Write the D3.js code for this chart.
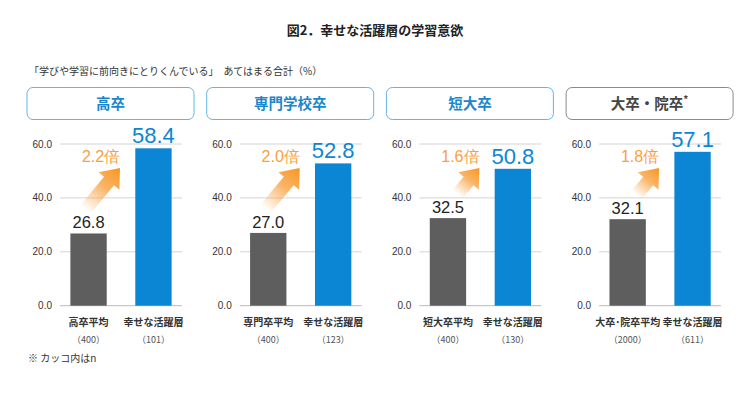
<!DOCTYPE html>
<html>
<head>
<meta charset="utf-8">
<script src="https://cdn.jsdelivr.net/npm/d3@7"></script>
<style>
  body { margin: 0; background: #fff; }
  text { font-family: "Noto Sans CJK JP", "Noto Sans", sans-serif; }
  .num { font-family: "Liberation Sans", Arial, sans-serif; }
</style>
</head>
<body>
<script>
// data
var groups = ["高卒", "専門学校卒", "短大卒", "大卒・院卒"];
var avgLabels = ["高卒平均", "専門卒平均", "短大卒平均", "大卒･院卒平均"];
var avgValues = [26.8, 27.0, 32.5, 32.1];
var happyValues = [58.4, 52.8, 50.8, 57.1];
var avgN = [400, 400, 400, 2000];
var happyN = [101, 123, 130, 611];
var ratios = ["2.2倍", "2.0倍", "1.6倍", "1.8倍"];
var yTicks = [0, 20, 40, 60];

var W = 750, H = 394;
var panelStep = 179.7, gridLeft = 60, gridWidth = 122;

var svg = d3.select("body").append("svg")
    .attr("width", W)
    .attr("height", H);

// arrow gradient
var defs = svg.append("defs");
var grad = defs.append("linearGradient")
    .attr("id", "arrowGrad")
    .attr("x1", 0).attr("y1", 0).attr("x2", 1).attr("y2", 0);
grad.append("stop").attr("offset", "0%").attr("stop-color", "#f9a03f").attr("stop-opacity", 0);
grad.append("stop").attr("offset", "55%").attr("stop-color", "#f9a03f").attr("stop-opacity", 0.8);
grad.append("stop").attr("offset", "100%").attr("stop-color", "#f7961e").attr("stop-opacity", 1);

// titles
svg.append("text")
    .attr("x", 375).attr("y", 35)
    .attr("text-anchor", "middle")
    .attr("font-size", 13).attr("font-weight", "bold")
    .attr("fill", "#222")
    .text("図2．幸せな活躍層の学習意欲");

svg.append("text")
    .attr("x", 29).attr("y", 75)
    .attr("font-size", 10).attr("fill", "#333")
    .text("「学びや学習に前向きにとりくんでいる」　あてはまる合計（%）");

svg.append("text")
    .attr("x", 28).attr("y", 362)
    .attr("font-size", 10).attr("fill", "#333")
    .text("※ カッコ内はn");

// scales
var y = d3.scaleLinear()
    .domain([0, 60])
    .range([305.7, 144]);

var x = d3.scaleBand()
    .domain(["avg", "happy"])
    .range([0, gridWidth])
    .paddingInner(0.44)
    .paddingOuter(0.16);

groups.forEach(function(name, i) {
  var g = svg.append("g")
      .attr("transform", "translate(" + (gridLeft + i * panelStep) + ",0)");
  var last = i === groups.length - 1;

  // header box
  g.append("rect")
      .attr("x", -33).attr("y", 87.5)
      .attr("width", 167).attr("height", 32)
      .attr("rx", 6)
      .attr("fill", "#fff")
      .attr("stroke", last ? "#8a8a8a" : "#62b6e6")
      .attr("stroke-width", 1);
  var ht = g.append("text")
      .attr("x", 50.5).attr("y", 109)
      .attr("text-anchor", "middle")
      .attr("font-size", 14.5).attr("font-weight", "bold")
      .attr("fill", last ? "#444" : "#1a86cc")
      .text(name);
  if (last) {
    ht.append("tspan").attr("dy", -6).attr("font-size", 10).text("*");
  }

  // grid + ticks
  g.selectAll(".grid")
      .data(yTicks)
    .enter().append("line")
      .attr("x1", 0).attr("x2", gridWidth)
      .attr("y1", function(d) { return y(d); })
      .attr("y2", function(d) { return y(d); })
      .attr("stroke", function(d) { return d === 0 ? "#bbb" : "#d4d4d4"; })
      .attr("stroke-width", 1);
  g.selectAll(".tick")
      .data(yTicks)
    .enter().append("text")
      .attr("class", "num")
      .attr("x", -8)
      .attr("y", function(d) { return y(d) + 3.5; })
      .attr("text-anchor", "end")
      .attr("font-size", 10).attr("fill", "#333")
      .text(function(d) { return d.toFixed(1); });

  var bars = [
    {key: "avg", value: avgValues[i], label: avgLabels[i], n: avgN[i]},
    {key: "happy", value: happyValues[i], label: "幸せな活躍層", n: happyN[i]}
  ];

  g.selectAll(".bar")
      .data(bars)
    .enter().append("rect")
      .attr("x", function(d) { return x(d.key); })
      .attr("width", x.bandwidth())
      .attr("y", function(d) { return y(d.value); })
      .attr("height", function(d) { return y(0) - y(d.value); })
      .attr("fill", function(d) { return d.key === "avg" ? "#5e5e5e" : "#0b86d4"; });

  // value labels
  g.selectAll(".val")
      .data(bars)
    .enter().append("text")
      .attr("class", "num")
      .attr("x", function(d) { return x(d.key) + x.bandwidth() / 2; })
      .attr("y", function(d) { return y(d.value) - 5; })
      .attr("text-anchor", "middle")
      .attr("font-size", function(d) { return d.key === "avg" ? 16.5 : 22; })
      .attr("fill", function(d) { return d.key === "avg" ? "#222" : "#0b86d4"; })
      .text(function(d) { return d.value.toFixed(1); });

  // category labels
  g.selectAll(".cat")
      .data(bars)
    .enter().append("text")
      .attr("x", function(d) { return x(d.key) + x.bandwidth() / 2; })
      .attr("y", 326)
      .attr("text-anchor", "middle")
      .attr("font-size", 10).attr("font-weight", "bold")
      .attr("fill", "#333")
      .text(function(d) { return d.label; });
  g.selectAll(".n")
      .data(bars)
    .enter().append("text")
      .attr("x", function(d) { return x(d.key) + x.bandwidth() / 2; })
      .attr("y", 343)
      .attr("text-anchor", "middle")
      .attr("font-size", 9).attr("fill", "#555")
      .text(function(d) { return "（" + d.n + "）"; });

  // arrow from the average label up towards the ratio
  var tipX = 60, tipY = 168;
  var tailY = y(avgValues[i]) - 24;
  var dirX = Math.cos(50 * Math.PI / 180), dirY = Math.sin(50 * Math.PI / 180);
  var len = (tailY - tipY) / dirY;
  var tailX = tipX - len * dirX;
  var headLen = 17, shaft = 6.5, head = 13.5;
  var shape = [
    [0, -shaft], [len - headLen, -shaft], [len - headLen, -head],
    [len, 0], [len - headLen, head], [len - headLen, shaft], [0, shaft]
  ];
  var deg = -Math.atan2(tailY - tipY, tipX - tailX) * 180 / Math.PI;
  g.append("polygon")
      .attr("points", shape.map(function(p) { return p.join(","); }).join(" "))
      .attr("transform", "translate(" + tailX + "," + tailY + ") rotate(" + deg + ")")
      .attr("fill", "url(#arrowGrad)");

  g.append("text")
      .attr("class", "num")
      .attr("x", 41).attr("y", 162)
      .attr("text-anchor", "middle")
      .attr("font-size", 16)
      .attr("fill", "#f9a03f")
      .text(ratios[i]);
});
</script>
</body>
</html>
